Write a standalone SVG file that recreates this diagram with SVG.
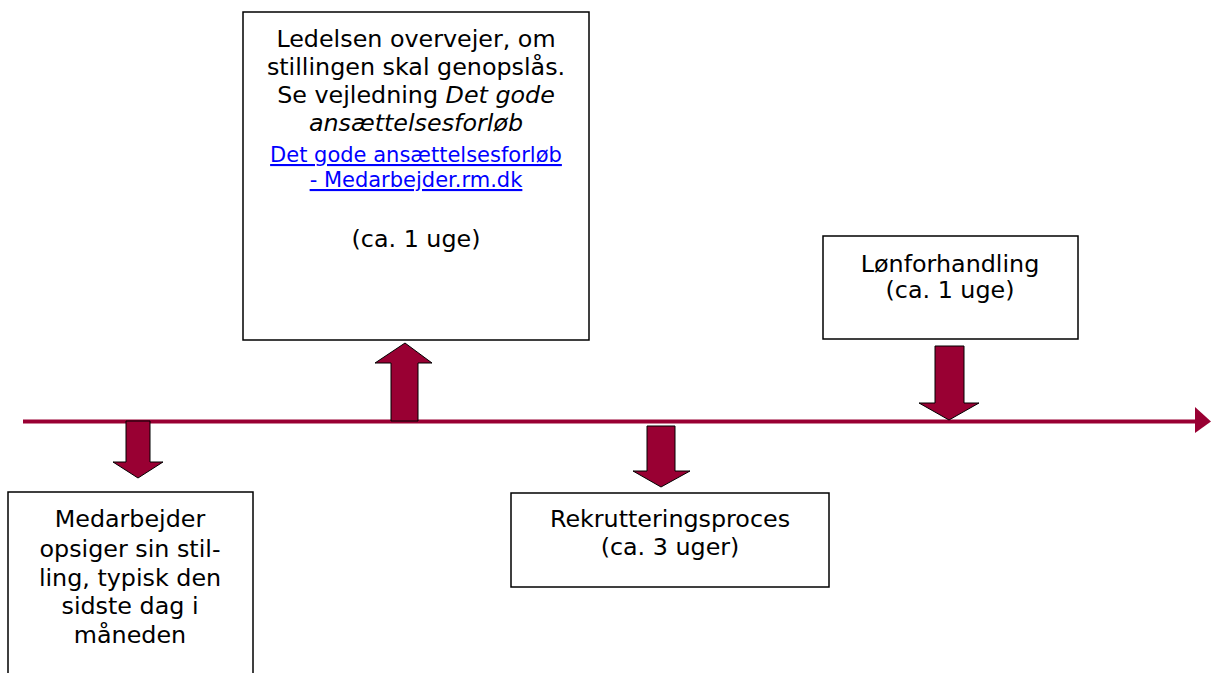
<svg xmlns="http://www.w3.org/2000/svg" width="1211" height="673" viewBox="0 0 1211 673">
<style>
.box{fill:#fff;stroke:#000;stroke-width:1.5}
.arr{fill:#990033;stroke:#000;stroke-width:1}
text{font-family:"DejaVu Sans",Verdana,sans-serif;font-size:23.8px;fill:#000;text-anchor:middle}
.lk{fill:#0000ff;text-decoration:underline;font-size:21px}
.it{font-style:italic}
</style>
<g id="connectors">
<line x1="23" y1="421.5" x2="1197" y2="421.5" stroke="#990033" stroke-width="4"/>
<polygon points="1195,407 1211,421.5 1195,433" fill="#990033"/>
<polygon class="arr" points="126,421 150,421 150,462 163,462 138,478 113,462 126,462"/>
<polygon class="arr" points="391,421 418,421 418,363 432,363 405,343 375,363 391,363"/>
<polygon class="arr" points="647,426 675,426 675,471 690,471 661,487 633,471 647,471"/>
<polygon class="arr" points="935,346 964,346 964,403 979,403 949,420 919,403 935,403"/>
</g>
<g id="node-ledelsen">
<rect class="box" x="243" y="12" width="346" height="328"/>
<text x="416" y="47">Ledelsen overvejer, om</text>
<text x="416" y="75">stillingen skal genopslås.</text>
<text x="416" y="103">Se vejledning <tspan class="it">Det gode</tspan></text>
<text x="416" y="131" class="it">ansættelsesforløb</text>
<text x="416" y="162" class="lk">Det gode ansættelsesforløb</text>
<text x="416" y="187" class="lk">- Medarbejder.rm.dk</text>
<text x="416" y="247">(ca. 1 uge)</text>
</g>
<g id="node-medarbejder">
<rect class="box" x="8" y="492" width="245" height="200"/>
<text x="130" y="527">Medarbejder</text>
<text x="130" y="557">opsiger sin stil-</text>
<text x="130" y="586">ling, typisk den</text>
<text x="130" y="614">sidste dag i</text>
<text x="130" y="643">måneden</text>
</g>
<g id="node-rekruttering">
<rect class="box" x="511" y="493" width="318" height="94"/>
<text x="670" y="527">Rekrutteringsproces</text>
<text x="670" y="555">(ca. 3 uger)</text>
</g>
<g id="node-lon">
<rect class="box" x="823" y="236" width="255" height="103"/>
<text x="950" y="272">Lønforhandling</text>
<text x="950" y="298">(ca. 1 uge)</text>
</g>
</svg>
